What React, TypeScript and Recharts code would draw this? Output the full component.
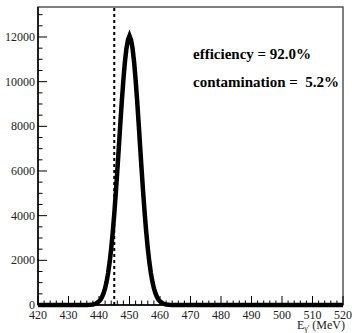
import React from 'react';
import { LineChart, Line, XAxis, YAxis, ReferenceLine, ReferenceArea } from 'recharts';

// photon energy (MeV) and counts
const energy = [
  420, 436, 437, 438, 439, 440, 440.5, 441, 441.5, 442, 442.5, 443, 443.5, 444, 444.5, 445, 445.5, 446,
  446.5, 447, 447.5, 448, 448.5, 449, 449.5, 450, 450.5, 451, 451.5, 452, 452.5, 453, 453.5, 454, 454.5,
  455, 455.5, 456, 456.5, 457, 457.5, 458, 458.5, 459, 459.5, 460, 461, 462, 463, 464, 520,
];
const counts = [
  0, 0, 10, 25, 65, 160, 240, 360, 530, 750, 1050, 1440, 1930, 2530, 3245, 4070, 5000, 6010,
  7060, 8130, 9160, 10090, 10890, 11490, 11870, 12050, 11870, 11490, 10890, 10090, 9160, 8130, 7060, 6010, 5000,
  4070, 3245, 2530, 1930, 1440, 1050, 750, 530, 360, 240, 160, 65, 25, 10, 0, 0,
];

const xTicks = [
  420, 422, 424, 426, 428, 430, 432, 434, 436, 438, 440, 442, 444, 446, 448, 450, 452, 454, 456, 458, 460,
  462, 464, 466, 468, 470, 472, 474, 476, 478, 480, 482, 484, 486, 488, 490, 492, 494, 496, 498, 500,
  502, 504, 506, 508, 510, 512, 514, 516, 518, 520,
];
const yTicks = [
  0, 500, 1000, 1500, 2000, 2500, 3000, 3500, 4000, 4500, 5000, 5500, 6000, 6500, 7000, 7500, 8000,
  8500, 9000, 9500, 10000, 10500, 11000, 11500, 12000, 12500, 13000,
];

const cutEnergy = 445;
const yMax = 13343;

const data = energy.map((e, i) => ({ e, n: counts[i] }));

const font = '"Liberation Serif", "Times New Roman", serif';

const XTick = (props: any) => {
  const { x, y, payload } = props;
  const v = payload.value;
  const major = v % 10 === 0;
  return (
    <g>
      <line x1={x} x2={x} y1={y} y2={y - (major ? 9 : 4.5)} stroke="#000" strokeWidth={1} />
      {major && (
        <text x={x} y={y + 14} textAnchor="middle" fontFamily={font} fontSize={12} fill="#222">
          {v}
        </text>
      )}
    </g>
  );
};

const YTick = (props: any) => {
  const { x, y, payload } = props;
  const v = payload.value;
  const major = v % 2000 === 0;
  return (
    <g>
      <line x1={x} x2={x + (major ? 9 : 4.5)} y1={y} y2={y} stroke="#000" strokeWidth={1} />
      {major && (
        <text x={x - 3} y={y + 4} textAnchor="end" fontFamily={font} fontSize={12} fill="#222">
          {v}
        </text>
      )}
    </g>
  );
};

export default function App() {
  return (
    <div style={{ position: 'absolute', left: 0, top: 0, width: 352, height: 333, background: '#fff' }}>
      <LineChart width={352} height={333} data={data} margin={{ top: 7, right: 9, left: 0, bottom: 0 }}>
        <XAxis
          dataKey="e"
          type="number"
          domain={[420, 520]}
          ticks={xTicks}
          interval={0}
          height={28}
          tickSize={0}
          tickMargin={0}
          tick={<XTick />}
          axisLine={{ stroke: '#000', strokeWidth: 1.5 }}
        />
        <YAxis
          type="number"
          domain={[0, yMax]}
          ticks={yTicks}
          interval={0}
          width={38}
          tickSize={0}
          tickMargin={0}
          tick={<YTick />}
          axisLine={{ stroke: '#000', strokeWidth: 1.5 }}
        />
        <ReferenceArea x1={420} x2={520} y1={0} y2={yMax} fill="none" stroke="#555" strokeWidth={1.5} />
        <ReferenceLine x={cutEnergy} stroke="#000" strokeWidth={2} strokeDasharray="3 3" />
        <Line
          type="linear"
          dataKey="n"
          stroke="#000"
          strokeWidth={4.5}
          dot={false}
          isAnimationActive={false}
        />
      </LineChart>
      <svg width={352} height={333} style={{ position: 'absolute', left: 0, top: 0, pointerEvents: 'none' }}>
        <g fontFamily={font} fontWeight="bold" fontSize={15} fill="#000">
          <text x={193} y={59} xmlSpace="preserve">efficiency = 92.0%</text>
          <text x={193} y={87} xmlSpace="preserve">contamination =  5.2%</text>
        </g>
        <text x={297} y={329} fontFamily={font} fontSize={12} fill="#222" xmlSpace="preserve">
          E
          <tspan fontSize={8} dy={2}>γ'</tspan>
          <tspan dy={-2}> (MeV)</tspan>
        </text>
      </svg>
    </div>
  );
}
